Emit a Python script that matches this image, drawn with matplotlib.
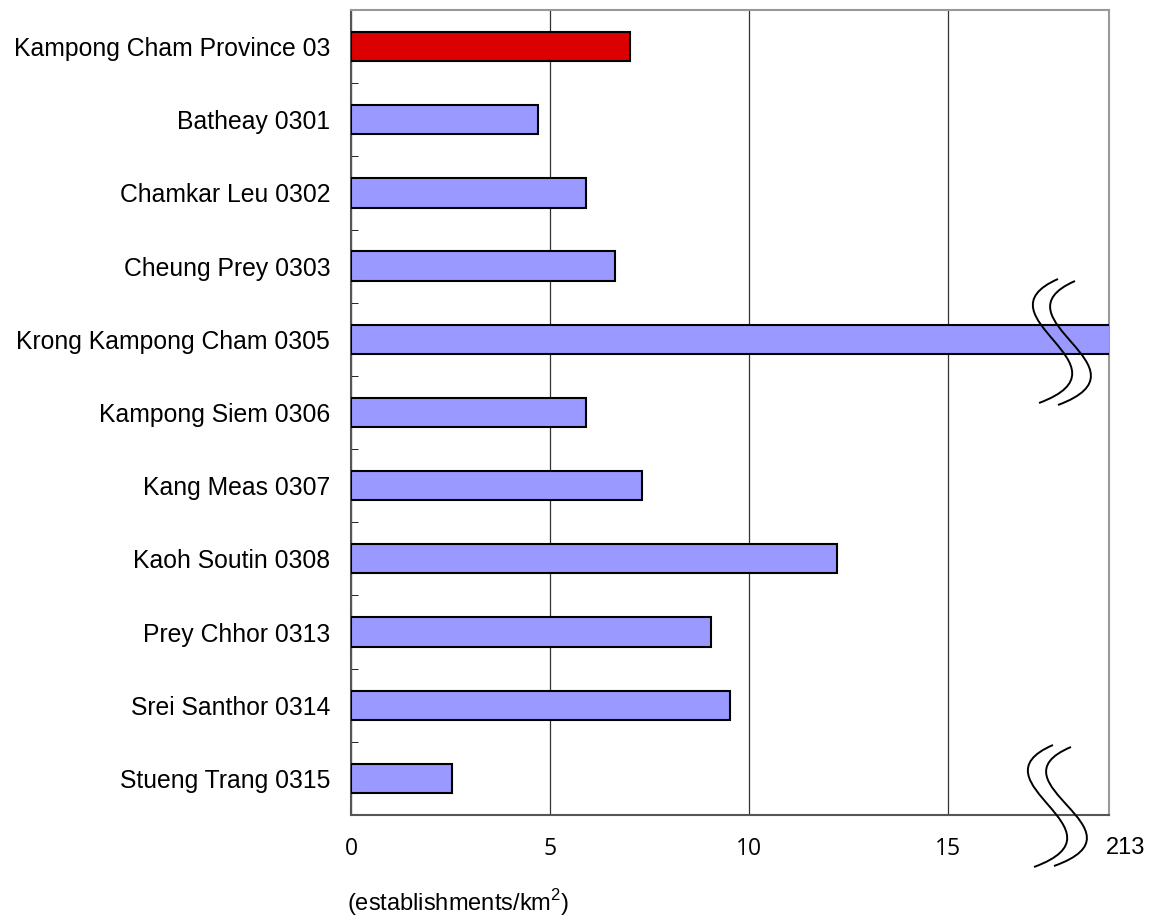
#!/usr/bin/env python3

import matplotlib
matplotlib.use("Agg")
import matplotlib.pyplot as plt
import matplotlib.transforms as mtransforms
from matplotlib.path import Path
from matplotlib.patches import PathPatch

districts = ["Kampong Cham Province 03", "Batheay 0301", "Chamkar Leu 0302",
             "Cheung Prey 0303", "Krong Kampong Cham 0305", "Kampong Siem 0306",
             "Kang Meas 0307", "Kaoh Soutin 0308", "Prey Chhor 0313",
             "Srei Santhor 0314", "Stueng Trang 0315"]
density = [7.0, 4.7, 5.9, 6.63, 213, 5.9, 7.31, 12.21, 9.05, 9.52, 2.54]
bar_colors = ["#DD0000"] + ["#9999FF"] * 10
xticks = [0, 5, 10, 15]
break_label = "213"

plt.rcParams["font.family"] = ["Liberation Sans", "DejaVu Sans"]

fig = plt.figure(figsize=(11.52, 9.21), dpi=100)
ax = fig.add_axes([351/1152, 1-815/921, (1109-351)/1152, (815-10)/921])

ypos = list(range(len(districts)))
ax.barh(ypos, density, height=0.4, color=bar_colors, edgecolor="black",
        linewidth=1.5, zorder=3)
ax.set_xlim(0, 19.05)
ax.set_ylim(len(districts) - 0.5, -0.5)

ax.set_yticks(ypos)
ax.set_yticklabels(districts, fontsize=17.8)
ax.set_yticks([i + 0.5 for i in range(-1, len(districts) - 1)], minor=True)
ax.tick_params(axis="y", which="major", length=0, pad=15)
ax.tick_params(axis="y", which="minor", length=5, direction="in", color="black")

ax.set_xticks(xticks)
ax.set_xticklabels([str(t) for t in xticks], fontsize=16.5, family="Open Sans")
ax.tick_params(axis="x", length=0, pad=16)
ax.grid(axis="x", color="#333333", linewidth=0.9, zorder=0)

for side in ["top", "right"]:
    ax.spines[side].set_color("#999999")
    ax.spines[side].set_linewidth(1.5)
ax.spines["left"].set_color("#555555")
ax.spines["bottom"].set_color("#555555")
ax.spines["left"].set_linewidth(1.5)
ax.spines["bottom"].set_linewidth(1.5)

# pixel coords (from top-left) -> figure
px = mtransforms.Affine2D().scale(1/1152, -1/921).translate(0, 1) + fig.transFigure

ax.text(1106/1152, 1-848/921, break_label, transform=fig.transFigure,
        fontsize=17, ha="left", va="center")
fig.text(347/1152, 1-903/921, "(establishments/km$^{\\mathregular{2}}$)",
         fontsize=17, ha="left", va="center")


def squiggle(x0, y0, x1, y1, dx_left, dx_right):
    verts = [(x0, y0), (x0 + dx_left, y0 + (y1 - y0) * 0.3),
             (x1 + dx_right, y0 + (y1 - y0) * 0.7), (x1, y1)]
    codes = [Path.MOVETO, Path.CURVE4, Path.CURVE4, Path.CURVE4]
    fig.add_artist(PathPatch(Path(verts, codes), fill=False, lw=1.4,
                             edgecolor="black", transform=px, clip_on=False,
                             zorder=10))


# axis break marks
squiggle(1058, 279, 1039, 403, -85, 100)
squiggle(1075, 281, 1058, 405, -85, 100)
squiggle(1053, 745, 1034, 867, -85, 100)
squiggle(1071, 747, 1054, 866, -85, 100)

fig.savefig("out.png", dpi=100)
